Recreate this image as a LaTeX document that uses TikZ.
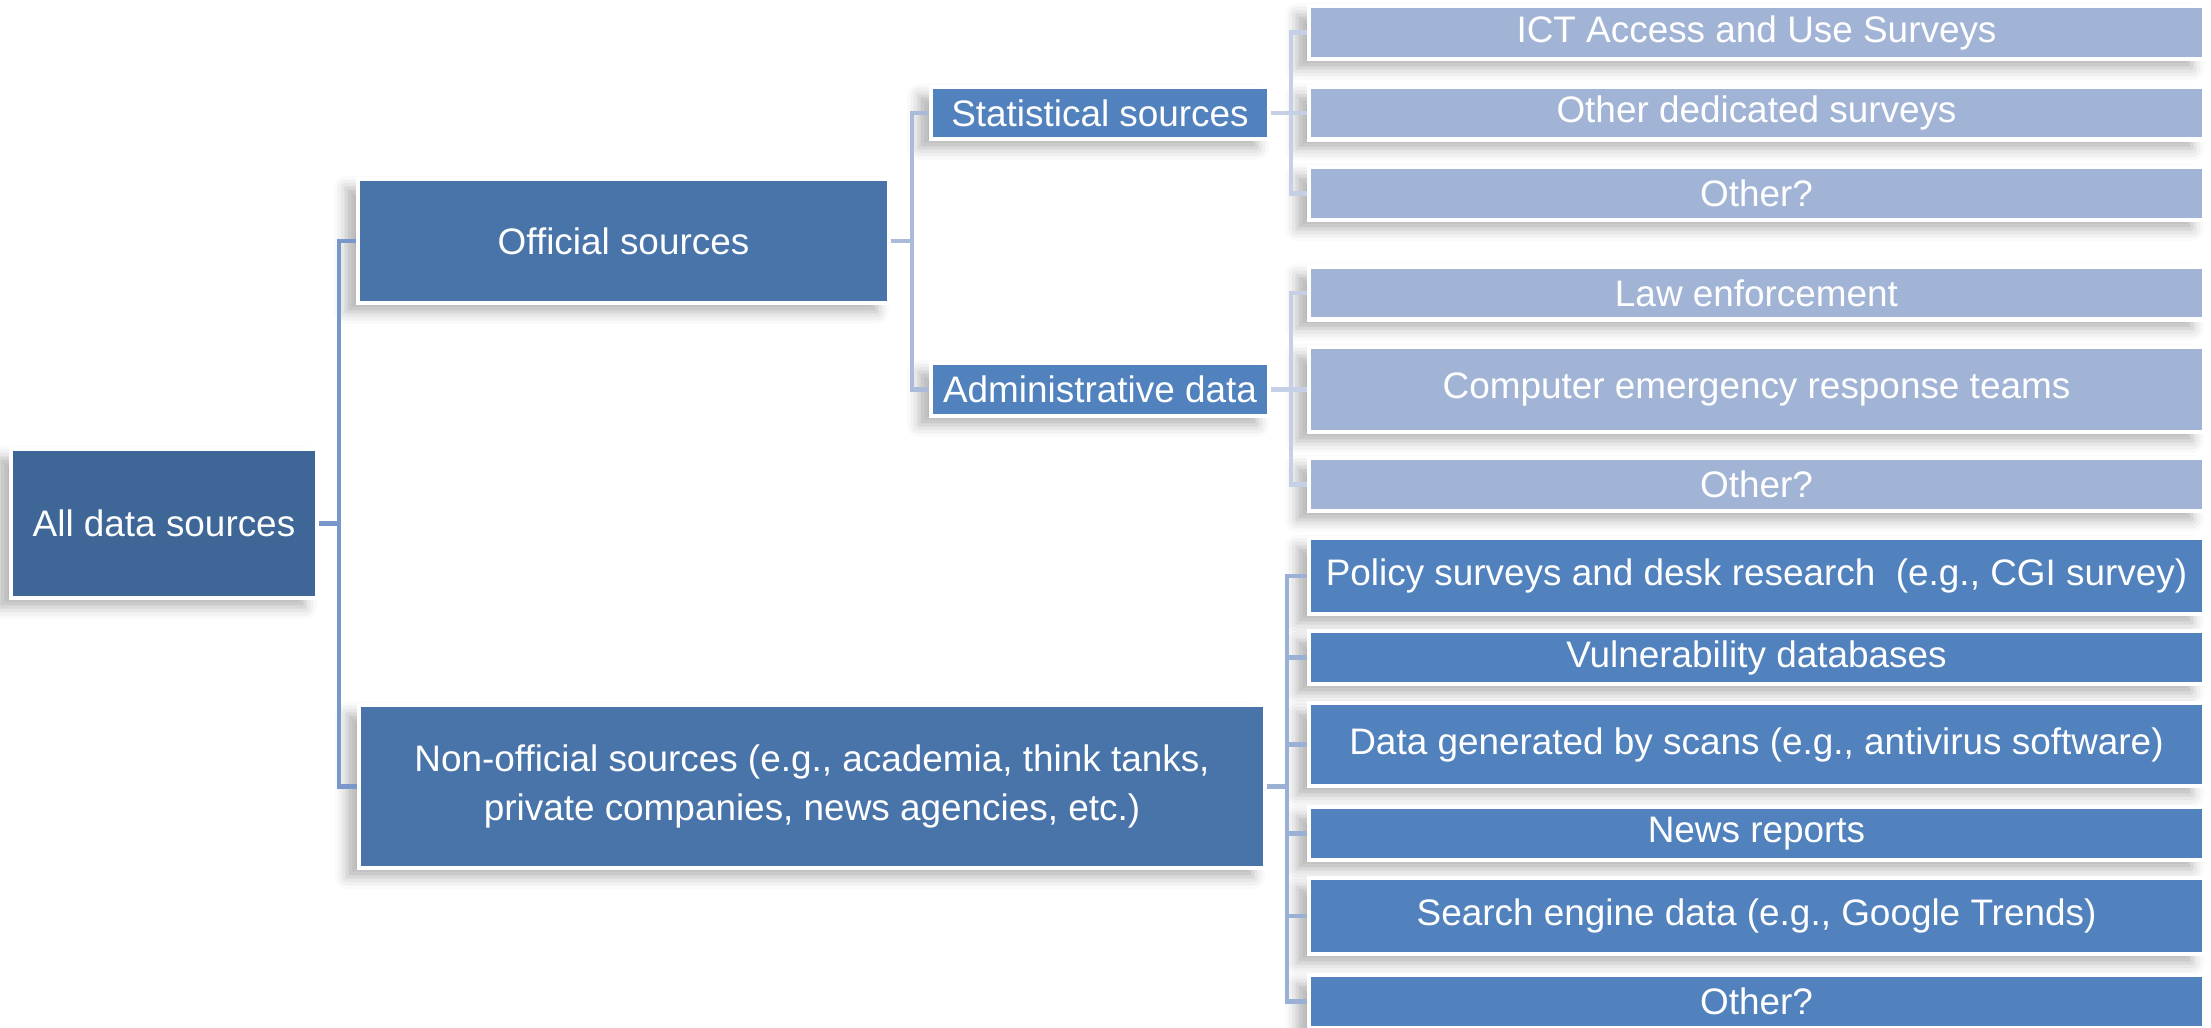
\documentclass[tikz,border=0pt]{standalone}
\usepackage{fontspec}
\setmainfont{Liberation Sans}
\usetikzlibrary{positioning,shadows.blur}

\definecolor{rootblue}{RGB}{62,102,150}
\definecolor{midblue}{RGB}{72,116,170}
\definecolor{boxblue}{RGB}{81,130,190}
\definecolor{paleblue}{RGB}{162,180,214}
\definecolor{linedark}{RGB}{122,151,203}
\definecolor{linemid}{RGB}{170,187,217}
\definecolor{linepale}{RGB}{197,208,230}
\definecolor{linenon}{RGB}{155,176,213}

\tikzset{
  src/.style={rectangle, draw=white, line width=1.2pt, text=white, align=center,
    inner sep=0pt, font=\fontsize{10.5}{12.6}\selectfont,
    blur shadow={shadow xshift=-1.2mm, shadow yshift=-0.9mm, shadow opacity=30, shadow blur radius=1.2mm}},
  leaf/.style={src, minimum width=8.95cm, minimum height=0.53cm},
  link/.style={line width=1.3pt}
}

\begin{document}
\begin{tikzpicture}
    \useasboundingbox (0,0) rectangle (22.11,10.28);

    % Root
    \node [src, fill=rootblue, minimum width=3.06cm, minimum height=1.49cm] (all) at (1.64,5.045) {All data sources};

    % Official branch
    \node [src, fill=midblue, minimum width=5.31cm, minimum height=1.24cm] (off) at (6.235,7.87) {Official sources};
    \node [src, fill=boxblue, minimum width=3.38cm, minimum height=0.52cm] (stat) at (11.0,9.15) {Statistical sources};
    \node [src, fill=boxblue, minimum width=3.38cm, minimum height=0.53cm] (adm) at (11.0,6.385) {Administrative data};

    \node [leaf, fill=paleblue] (ict) at (17.565,9.955) {ICT Access and Use Surveys};
    \node [leaf, fill=paleblue] (ded) at (17.565,9.15) {Other dedicated surveys};
    \node [leaf, fill=paleblue] (sother) at (17.565,8.345) {Other?};

    \node [leaf, fill=paleblue] (law) at (17.565,7.35) {Law enforcement};
    \node [leaf, fill=paleblue, minimum height=0.85cm] (cert) at (17.565,6.385) {Computer emergency response teams};
    \node [leaf, fill=paleblue] (aother) at (17.565,5.435) {Other?};

    % Non-official branch
    \node [src, fill=midblue, minimum width=9.06cm, minimum height=1.63cm] (non) at (8.12,2.415)
        {Non-official sources (e.g., academia, think tanks,\\[1.5pt] private companies, news agencies, etc.)};

    \node [leaf, fill=boxblue, minimum height=0.76cm] (pol) at (17.565,4.52) {Policy surveys and desk research~ (e.g., CGI survey)};
    \node [leaf, fill=boxblue] (vul) at (17.565,3.705) {Vulnerability databases};
    \node [leaf, fill=boxblue, minimum height=0.83cm] (scan) at (17.565,2.835) {Data generated by scans (e.g., antivirus software)};
    \node [leaf, fill=boxblue] (news) at (17.565,1.945) {News reports};
    \node [leaf, fill=boxblue, minimum height=0.76cm] (search) at (17.565,1.12) {Search engine data (e.g., Google Trends)};
    \node [leaf, fill=boxblue] (nother) at (17.565,0.265) {Other?};

    % Connectors
    \draw [link, draw=linedark] (all.east) -- ++(0.2,0) |- (off.west);
    \draw [link, draw=linedark] (all.east) -- ++(0.2,0) |- (non.west);

    \draw [link, draw=linemid] (off.east) -- ++(0.21,0) |- (stat.west);
    \draw [link, draw=linemid] (off.east) -- ++(0.21,0) |- (adm.west);

    \draw [link, draw=linepale] (stat.east) -- ++(0.2,0) |- (ict.west);
    \draw [link, draw=linepale] (stat.east) -- ++(0.2,0) |- (ded.west);
    \draw [link, draw=linepale] (stat.east) -- ++(0.2,0) |- (sother.west);

    \draw [link, draw=linepale] (adm.east) -- ++(0.2,0) |- (law.west);
    \draw [link, draw=linepale] (adm.east) -- ++(0.2,0) |- (cert.west);
    \draw [link, draw=linepale] (adm.east) -- ++(0.2,0) |- (aother.west);

    \draw [link, draw=linenon] (non.east) -- ++(0.2,0) |- (pol.west);
    \draw [link, draw=linenon] (non.east) -- ++(0.2,0) |- (vul.west);
    \draw [link, draw=linenon] (non.east) -- ++(0.2,0) |- (scan.west);
    \draw [link, draw=linenon] (non.east) -- ++(0.2,0) |- (news.west);
    \draw [link, draw=linenon] (non.east) -- ++(0.2,0) |- (search.west);
    \draw [link, draw=linenon] (non.east) -- ++(0.2,0) |- (nother.west);
\end{tikzpicture}
\end{document}
